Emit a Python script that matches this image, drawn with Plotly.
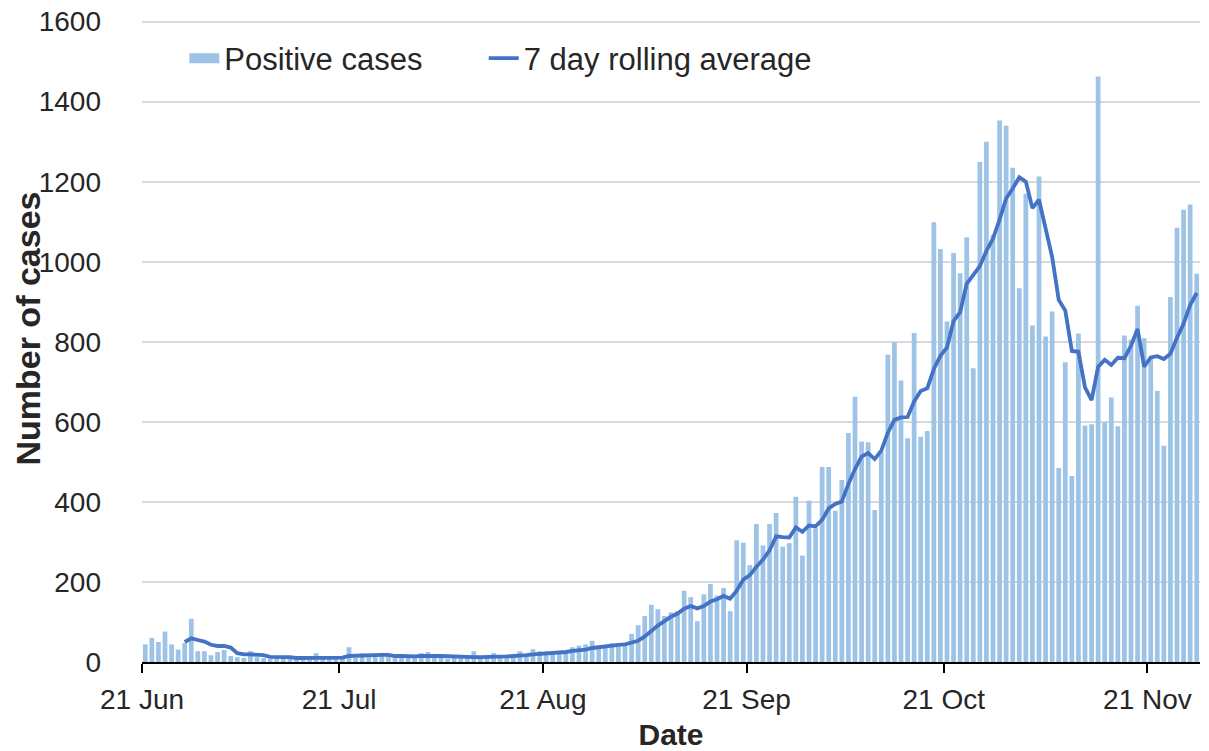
import pandas as pd
import plotly.graph_objects as go

start_date = "2020-06-21"

positive_cases = [
    44, 60, 50, 76, 44, 31, 47, 108, 27, 27,
    17, 25, 30, 15, 12, 10, 27, 12, 10, 8,
    12, 10, 8, 12, 10, 8, 22, 10, 8, 10,
    12, 37, 10, 22, 12, 15, 18, 15, 12, 14,
    12, 10, 22, 25, 12, 10, 8, 12, 10, 8,
    27, 10, 12, 22, 10, 12, 15, 27, 18, 32,
    27, 26, 24, 24, 24, 37, 41, 44, 53, 38,
    40, 47, 38, 47, 70, 92, 115, 143, 132, 115,
    124, 127, 178, 162, 102, 169, 195, 166, 185, 127,
    304, 298, 242, 345, 291, 345, 372, 288, 297, 413,
    266, 403, 334, 487, 487, 378, 455, 572, 663, 551,
    549, 380, 526, 768, 799, 703, 559, 822, 563, 577,
    1099, 1032, 851, 1022, 971, 1061, 734, 1249, 1300, 1067,
    1353, 1340, 1235, 934, 1170, 841, 1213, 813, 876, 485,
    749, 465, 821, 591, 594, 1463, 599, 661, 589, 816,
    805, 890, 809, 760, 677, 540, 912, 1085, 1130, 1143,
    970,
]

rolling_average = [None] * 6 + [
    50, 59, 55, 51, 43, 40, 40, 36, 22, 19,
    19, 19, 17, 13, 13, 13, 12, 10, 10, 10,
    12, 11, 11, 11, 11, 15, 16, 16, 16, 17,
    18, 18, 15, 15, 14, 14, 15, 16, 15, 15,
    14, 14, 14, 12, 12, 12, 12, 14, 14, 14,
    15, 15, 17, 19, 20, 22, 24, 25, 25, 28,
    29, 31, 35, 37, 40, 43, 43, 44, 48, 53,
    64, 79, 91, 102, 113, 121, 133, 140, 134, 140,
    151, 157, 165, 158, 178, 206, 217, 238, 256, 279,
    314, 312, 311, 336, 325, 341, 339, 355, 384, 395,
    401, 445, 482, 513, 522, 507, 528, 573, 605, 611,
    612, 651, 677, 684, 732, 765, 786, 852, 874, 945,
    967, 989, 1027, 1058, 1105, 1158, 1183, 1211, 1200, 1134,
    1155, 1078, 1012, 905, 878, 777, 775, 686, 654, 738,
    755, 742, 760, 759, 790, 832, 738, 761, 764, 757,
    770, 810, 845, 892, 922,
]

tick_dates = ["2020-06-21", "2020-07-21", "2020-08-21",
              "2020-09-21", "2020-10-21", "2020-11-21"]
tick_labels = ["21 Jun", "21 Jul", "21 Aug", "21 Sep", "21 Oct", "21 Nov"]
y_ticks = [0, 200, 400, 600, 800, 1000, 1200, 1400, 1600]

dates = pd.date_range(start_date, periods=len(positive_cases), freq="D")
x_start = dates[0].strftime("%Y-%m-%d")
x_end = (dates[-1] + pd.Timedelta(days=1)).strftime("%Y-%m-%d")

FONT = "Liberation Sans, Arial, sans-serif"
TXT = "#262626"
BAR_COLOR = "#9DC3E6"
LINE_COLOR = "#4472C4"
DAY_MS = 86400000

fig = go.Figure()
fig.add_trace(go.Bar(
    x=dates, y=positive_cases, name="Positive cases",
    xperiod=DAY_MS, xperiodalignment="middle",
    marker=dict(color=BAR_COLOR, line=dict(width=0)),
    legendgroup="cases", showlegend=False,
))
# legend swatch for the bars (wide rectangle like the original)
fig.add_trace(go.Scatter(
    x=[None], y=[None], name="Positive cases", mode="lines",
    line=dict(color=BAR_COLOR, width=17),
    legendgroup="cases", legend="legend", hoverinfo="skip",
))
fig.add_trace(go.Scatter(
    x=dates, y=rolling_average, name="7 day rolling average",
    xperiod=DAY_MS, xperiodalignment="middle",
    mode="lines", line=dict(color=LINE_COLOR, width=3.8),
    legend="legend2",
))

legend_common = dict(orientation="h", xanchor="left", yanchor="top",
                     bgcolor="rgba(255,255,255,0)",
                     font=dict(size=31, color=TXT, family=FONT),
                     itemwidth=30)
fig.update_layout(
    width=1209, height=751,
    margin=dict(l=142, r=9, t=20, b=89, autoexpand=False),
    paper_bgcolor="white", plot_bgcolor="white",
    bargap=0.28,
    font=dict(family=FONT, size=28, color=TXT),
    showlegend=True,
    legend=dict(x=0.040, y=0.982, **legend_common),
    legend2=dict(x=0.323, y=0.982, **legend_common),
    annotations=[dict(
        text="<b>Number of cases</b>", textangle=-90,
        xref="paper", yref="paper", x=-0.108, y=0.519,
        xanchor="center", yanchor="middle", showarrow=False,
        font=dict(size=34, color=TXT, family=FONT),
    )],
)
fig.update_xaxes(
    type="date", range=[x_start, x_end], automargin=False,
    tickvals=tick_dates, ticktext=tick_labels,
    showline=True, linecolor="black", linewidth=2,
    ticks="outside", ticklen=9, tickwidth=2, tickcolor="black",
    ticklabelstandoff=2, ticklabeloverflow="allow",
    showgrid=False, zeroline=False,
    tickfont=dict(size=28, color=TXT),
    title=dict(text="<b>Date</b>", font=dict(size=30, color=TXT), standoff=16),
)
fig.update_yaxes(
    # slightly above 1600 so the top gridline is not clipped at the edge
    range=[0, 1604], tickvals=y_ticks, automargin=False,
    showgrid=True, gridcolor="#D9D9D9", gridwidth=1.5,
    showline=False, zeroline=False,
    ticks="", ticklabelstandoff=40, ticklabeloverflow="allow",
    tickfont=dict(size=28, color=TXT),
)

# remove the default page margin so the figure sits at the window's corner
fig.write_html("out.html",
               config={"displayModeBar": False},
               post_script="document.body.style.margin='0';document.body.style.overflow='hidden';")
